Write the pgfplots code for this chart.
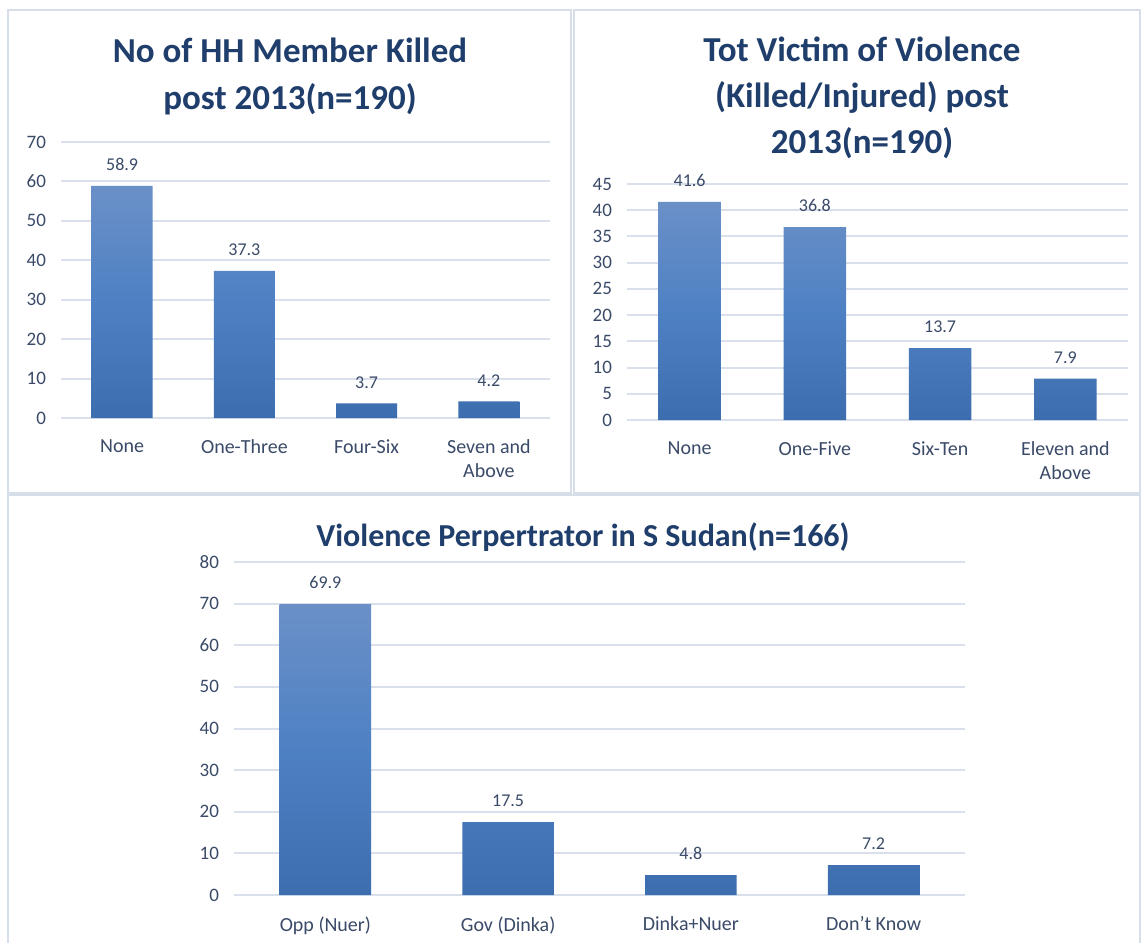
\documentclass[border=0pt]{standalone}
\usepackage{fontspec}
\setmainfont{Carlito}
\usepackage{pgfplots}
\pgfplotsset{compat=1.18}
\definecolor{titlec}{HTML}{1F3E6B}
\definecolor{tickc}{HTML}{3A4A68}
\definecolor{gridc}{HTML}{D9E0EC}
\definecolor{barT}{HTML}{6B90C8}
\definecolor{barM}{HTML}{4E81C3}
\definecolor{barB}{HTML}{3C6DAF}
\definecolor{framec}{HTML}{D6DEEA}
\pgfplotsset{
  mybar/.style={
    scale only axis, ybar, ymin=0, xmin=-0.5, xmax=3.5, xtick={0,1,2,3},
    axis line style={draw=none}, major tick style={draw=none},
    ymajorgrids, grid style={gridc, line width=1pt},
    /pgf/number format/assume math mode=true,
    yticklabel style={font=\fontsize{9.5}{10}\selectfont, text=tickc, xshift=-4pt},
    xticklabel style={font=\fontsize{10}{12}\selectfont, text=tickc, align=center, yshift=-3pt},
    bar width=0.5,
    nodes near coords,
    nodes near coords style={font=\fontsize{9}{10}\selectfont, text=tickc, yshift=4pt},
  },
  mybars/.style={draw=none, top color=barT, bottom color=barB, middle color=barM},
}
\begin{document}
\begin{tikzpicture}
\useasboundingbox (0,0) rectangle (571.5pt,471.5pt);
\fill[white] (0,0) rectangle (571.5pt,471.5pt);
% panel frames
\draw[framec, line width=1pt] (4pt,225pt) rectangle (285.5pt,466.5pt);
\draw[framec, line width=1pt] (287pt,225pt) rectangle (570pt,466.5pt);
\draw[framec, line width=1pt] (4pt,0pt) -- (4pt,224pt) -- (570pt,224pt) -- (570pt,0pt);
% titles
\node[align=center, text=titlec, font=\fontsize{17.5}{23.5}\selectfont\bfseries] at (145pt,433.5pt) {No of HH Member Killed\\post 2013(n=190)};
\node[align=center, text=titlec, font=\fontsize{17.5}{23}\selectfont\bfseries] at (431pt,422.5pt) {Tot Victim of Violence\\(Killed/Injured) post\\2013(n=190)};
\node[text=titlec, font=\fontsize{16}{19}\selectfont\bfseries] at (291.5pt,203pt) {Violence Perpertrator in S Sudan(n=166)};
% top-left
\begin{axis}[mybar, at={(30.5pt,262.5pt)}, anchor=south west, width=244.5pt, height=138pt,
  ymax=70, ytick={0,10,...,70},
  xticklabels={None,One-Three,Four-Six,Seven and\\Above}]
\addplot[mybars] coordinates {(0,58.9) (1,37.3) (2,3.7) (3,4.2)};
\end{axis}
% top-right
\begin{axis}[mybar, at={(313.5pt,261.5pt)}, anchor=south west, width=250.5pt, height=118pt,
  ymax=45, ytick={0,5,...,45},
  xticklabels={None,One-Five,Six-Ten,Eleven and\\Above}]
\addplot[mybars] coordinates {(0,41.6) (1,36.8) (2,13.7) (3,7.9)};
\end{axis}
% bottom
\begin{axis}[mybar, at={(117pt,24pt)}, anchor=south west, width=365.5pt, height=166.5pt,
  ymax=80, ytick={0,10,...,80},
  xticklabels={Opp (Nuer),Gov (Dinka),Dinka+Nuer,Don't Know}]
\addplot[mybars] coordinates {(0,69.9) (1,17.5) (2,4.8) (3,7.2)};
\end{axis}
\end{tikzpicture}
\end{document}
